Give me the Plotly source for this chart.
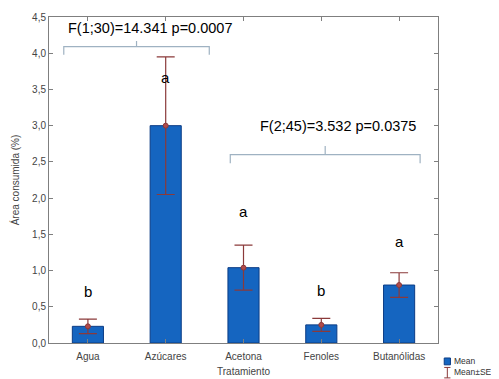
import plotly.graph_objects as go

categories = ["Agua", "Azúcares", "Acetona", "Fenoles", "Butanólidas"]
means = [0.23, 3.00, 1.04, 0.25, 0.80]
se = [0.10, 0.95, 0.31, 0.09, 0.17]
letters = ["b", "a", "a", "b", "a"]
letter_y = [0.71, 3.66, 1.81, 0.73, 1.40]

pos = list(range(len(categories)))

BAR = "#1565c0"
ERR = "#8b3a3a"
BRACE = "#9fb2c2"
AX = "#7f7f7f"

fig = go.Figure()

fig.add_trace(go.Bar(
    x=pos, y=means, width=0.4,
    marker=dict(color=BAR, line=dict(color="#0b3c85", width=1)),
    showlegend=False,
))
fig.add_trace(go.Scatter(
    x=pos, y=means, mode="markers",
    marker=dict(size=5, color="#b04a4a", line=dict(color=ERR, width=1)),
    error_y=dict(type="data", array=se, color=ERR, thickness=1.2, width=9),
    showlegend=False,
))

# significance letters
for x, lab, ly in zip(pos, letters, letter_y):
    fig.add_annotation(x=x, y=ly, text=lab, showarrow=False,
                       font=dict(size=15, color="black", family="Liberation Sans"))

## brace + F-test text
def add_brace(fig, x0, x1, y, text, text_y, drop=0.11, bump=0.08):
    xc = (x0 + x1) / 2
    path = (f"M {x0},{y-drop} L {x0},{y} L {xc},{y} L {xc},{y+bump} "
            f"M {xc},{y} L {x1},{y} L {x1},{y-drop}")
    fig.add_shape(type="path", path=path, xref="x", yref="y",
                  line=dict(color=BRACE, width=1.2))
    fig.add_annotation(x=xc + 0.17, y=text_y, text=text, showarrow=False,
                       font=dict(size=14.5, color="black", family="Liberation Sans"))

add_brace(fig, -0.31, 1.56, 4.09, "F(1;30)=14.341 p=0.0007", 4.35)
add_brace(fig, 1.83, 4.27, 2.60, "F(2;45)=3.532 p=0.0375", 3.00, drop=0.12, bump=0.12)

# hand made legend
fig.add_shape(type="rect", xref="paper", yref="paper",
              x0=1.016, x1=1.032, y0=-0.067, y1=-0.046,
              fillcolor=BAR, line=dict(color="#0b3c85", width=1))
fig.add_shape(type="line", xref="paper", yref="paper",
              x0=1.024, x1=1.024, y0=-0.075, y1=-0.107, line=dict(color=ERR, width=1))
fig.add_shape(type="line", xref="paper", yref="paper",
              x0=1.016, x1=1.032, y0=-0.075, y1=-0.075, line=dict(color=ERR, width=1))
fig.add_shape(type="line", xref="paper", yref="paper",
              x0=1.016, x1=1.032, y0=-0.107, y1=-0.107, line=dict(color=ERR, width=1))
fig.add_annotation(xref="paper", yref="paper", x=1.035, y=-0.056, text="Mean",
                   showarrow=False, xanchor="left", yanchor="middle",
                   font=dict(size=8.5, color="#333"))
fig.add_annotation(xref="paper", yref="paper", x=1.035, y=-0.090, text="Mean±SE",
                   showarrow=False, xanchor="left", yanchor="middle",
                   font=dict(size=8.5, color="#333"))

# page body has an 8px margin, so the figure is shrunk by that much
fig.update_layout(
    width=491, height=371,
    margin=dict(l=41, r=61, t=9, b=36, autoexpand=False),
    plot_bgcolor="white", paper_bgcolor="white",
    separators=",.",
    font=dict(family="Liberation Sans", size=10, color="#444"),
    xaxis=dict(
        tickmode="array", tickvals=pos, ticktext=categories,
        range=[-0.5, 4.5], showline=True, linecolor=AX, mirror="ticks",
        ticks="inside", ticklen=4, tickcolor=AX, showgrid=False,
        ticklabelstandoff=4,
        title=dict(text="Tratamiento", standoff=6, font=dict(size=10)),
    ),
    yaxis=dict(
        range=[0, 4.5], dtick=0.5, tickformat=".1f",
        showline=True, linecolor=AX, mirror="ticks",
        ticks="inside", ticklen=4, tickcolor=AX, showgrid=False, zeroline=False,
        title=dict(text="Área consumida (%)", standoff=10, font=dict(size=10)),
    ),
)

fig.write_html("out.html")
